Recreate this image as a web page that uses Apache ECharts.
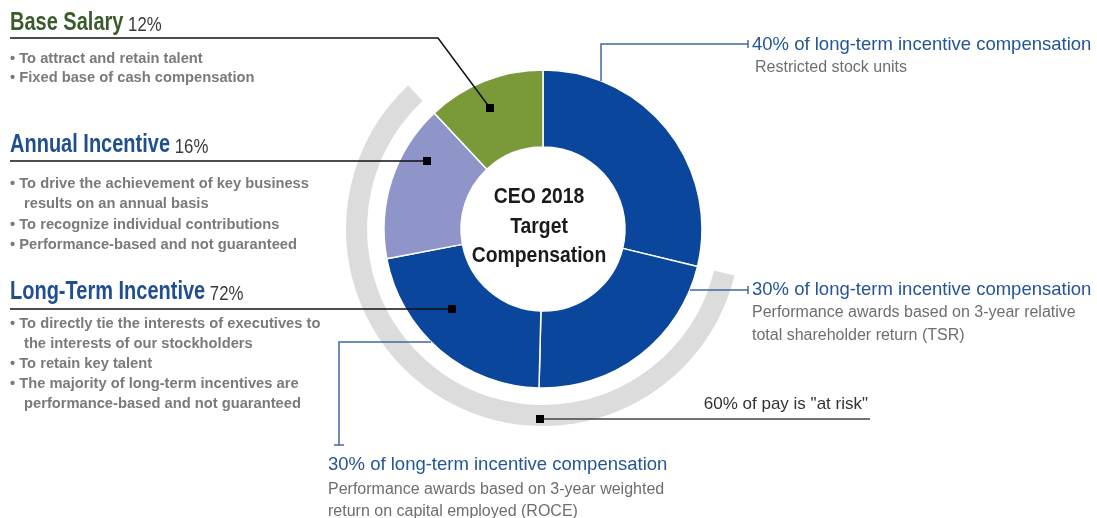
<!DOCTYPE html>
<html><head><meta charset="utf-8">
<script src="https://cdn.jsdelivr.net/npm/echarts@6/dist/echarts.min.js"></script>
<style>html,body{margin:0;padding:0;background:#fff}#c{width:1097px;height:518px}</style>
</head><body><div id="c"></div>
<script>
// ---- data ----
const sliceNames = ['Restricted stock units', 'Performance awards (TSR)', 'Performance awards (ROCE)', 'Annual Incentive', 'Base Salary'];
const sliceValues = [28.8, 21.6, 21.6, 16, 12];
const sliceColors = ['#0a469b', '#0a469b', '#0a469b', '#8f95c8', '#7a9a3a'];
const atRiskIdx = [1, 2, 3];
const pillarNames = ['Base Salary', 'Annual Incentive', 'Long-Term Incentive'];
const pillarShares = ['12%', '16%', '72%'];
const pillarColors = ['#3b5b2c', '#1f4f8f', '#1f4f8f'];
const pillarBullets = [
  ['• To attract and retain talent', '• Fixed base of cash compensation'],
  ['• To drive the achievement of key business', 'results on an annual basis', '• To recognize individual contributions', '• Performance-based and not guaranteed'],
  ['• To directly tie the interests of executives to', 'the interests of our stockholders', '• To retain key talent', '• The majority of long-term incentives are', 'performance-based and not guaranteed']
];
const ltiShares = ['40%', '30%', '30%'];
const ltiTitles = ltiShares.map(s => s + ' of long-term incentive compensation');
const ltiNotes = [
  ['Restricted stock units'],
  ['Performance awards based on 3-year relative', 'total shareholder return (TSR)'],
  ['Performance awards based on 3-year weighted', 'return on capital employed (ROCE)']
];
const atRiskLabel = '60% of pay is "at risk"';
const centerLines = ['CEO 2018', 'Target', 'Compensation'];

// ---- layout ----
const CX = 543, CY = 229;
const SANS = 'Liberation Sans, Arial, sans-serif';
const Z = 100;

const riskSum = atRiskIdx.reduce((a, i) => a + sliceValues[i], 0);
const ringData = [
  { value: sliceValues[0], itemStyle: { color: 'transparent' } },
  { value: riskSum, itemStyle: { color: '#dcdcdc' } },
  { value: sliceValues[4], itemStyle: { color: 'transparent' } }
];

const els = [];
function txt(x, y, text, size, color, weight, align, sx) {
  els.push({ type: 'text', x: x, y: y, z: Z, silent: true, scaleX: sx || 1,
    style: { text: text, fontSize: size, fill: color, fontFamily: SANS, fontWeight: weight || 'normal',
      align: align || 'left', verticalAlign: 'middle' } });
}
function line(points, color, w) {
  els.push({ type: 'polyline', z: Z, silent: true, shape: { points: points }, style: { stroke: color, lineWidth: w || 1.5, fill: null } });
}
function marker(x, y) {
  els.push({ type: 'rect', z: Z + 1, silent: true, shape: { x: x - 4, y: y - 4, width: 8, height: 8 }, style: { fill: '#000' } });
}

// left headings (condensed look via horizontal scale)
const headY = [22, 144, 291];
pillarNames.forEach((n, i) => {
  els.push({ type: 'text', x: 10, y: headY[i], z: Z, silent: true, scaleX: 0.8,
    style: { text: '{a|' + n + '}{b| ' + pillarShares[i] + '}', verticalAlign: 'middle',
      rich: { a: { fontSize: 25, fontFamily: SANS, fontWeight: 'bold', fill: pillarColors[i], verticalAlign: 'bottom', lineHeight: 28 },
              b: { fontSize: 21, fontFamily: SANS, fill: '#3a3a3a', verticalAlign: 'bottom', lineHeight: 28 } } } });
});
const bulletY = [[59, 78], [184, 204, 225, 245], [324, 344, 364, 384, 404]];
pillarBullets.forEach((arr, i) => arr.forEach((t, j) => {
  const cont = t.charAt(0) !== '•';
  txt(cont ? 24 : 10, bulletY[i][j], t, 15, '#7a7a7a', 'bold', 'left', 0.98);
}));

// left leader lines (black)
line([[10, 38], [438, 38], [490, 108]], '#111', 1.5); marker(490, 108);
line([[10, 161], [427, 161]], '#111', 1.5); marker(427, 161);
line([[10, 309], [452, 309]], '#111', 1.5); marker(452, 309);
line([[540, 419], [870, 419]], '#444', 1.5); marker(540, 419);
txt(868, 404, atRiskLabel, 17, '#333', 'normal', 'right');

// right / bottom blue leaders
const BL = '#3d6aa3';
line([[601, 81], [601, 44], [748, 44]], BL, 1.5); line([[748, 40], [748, 48]], BL, 1.5);
line([[690, 290], [748, 290]], BL, 1.5); line([[748, 286], [748, 294]], BL, 1.5);
line([[431, 342], [339, 342], [339, 445]], BL, 1.5); line([[334, 445], [344, 445]], BL, 1.5);

const ltiPos = [[752, 45], [752, 290], [328, 465]];
const noteY = [[68], [313, 336], [490, 512]];
ltiTitles.forEach((t, i) => {
  txt(ltiPos[i][0], ltiPos[i][1], t, 18.5, '#245597');
  ltiNotes[i].forEach((n, j) => txt(ltiPos[i][0] + (i === 0 ? 3 : 0), noteY[i][j], n, 16, '#6e6e6e'));
});

// center
const cY = [197, 227, 256];
centerLines.forEach((t, i) => txt(539, cY[i], t, 22, '#1a1a1a', 'bold', 'center', 0.88));

const chart = echarts.init(document.getElementById('c'));
chart.setOption({
  animation: false,
  backgroundColor: '#fff',
  series: [
    { type: 'pie', center: [CX, CY], radius: [176, 197], startAngle: 90, clockwise: true, silent: true,
      label: { show: false }, labelLine: { show: false }, data: ringData },
    { type: 'pie', center: [CX, CY], radius: [82, 159], startAngle: 90, clockwise: true, silent: true,
      label: { show: false }, labelLine: { show: false },
      itemStyle: { borderColor: '#fff', borderWidth: 1.5 },
      data: sliceNames.map((n, i) => ({ name: n, value: sliceValues[i], itemStyle: { color: sliceColors[i] } })) }
  ],
  graphic: { elements: els }
});
</script></body></html>
